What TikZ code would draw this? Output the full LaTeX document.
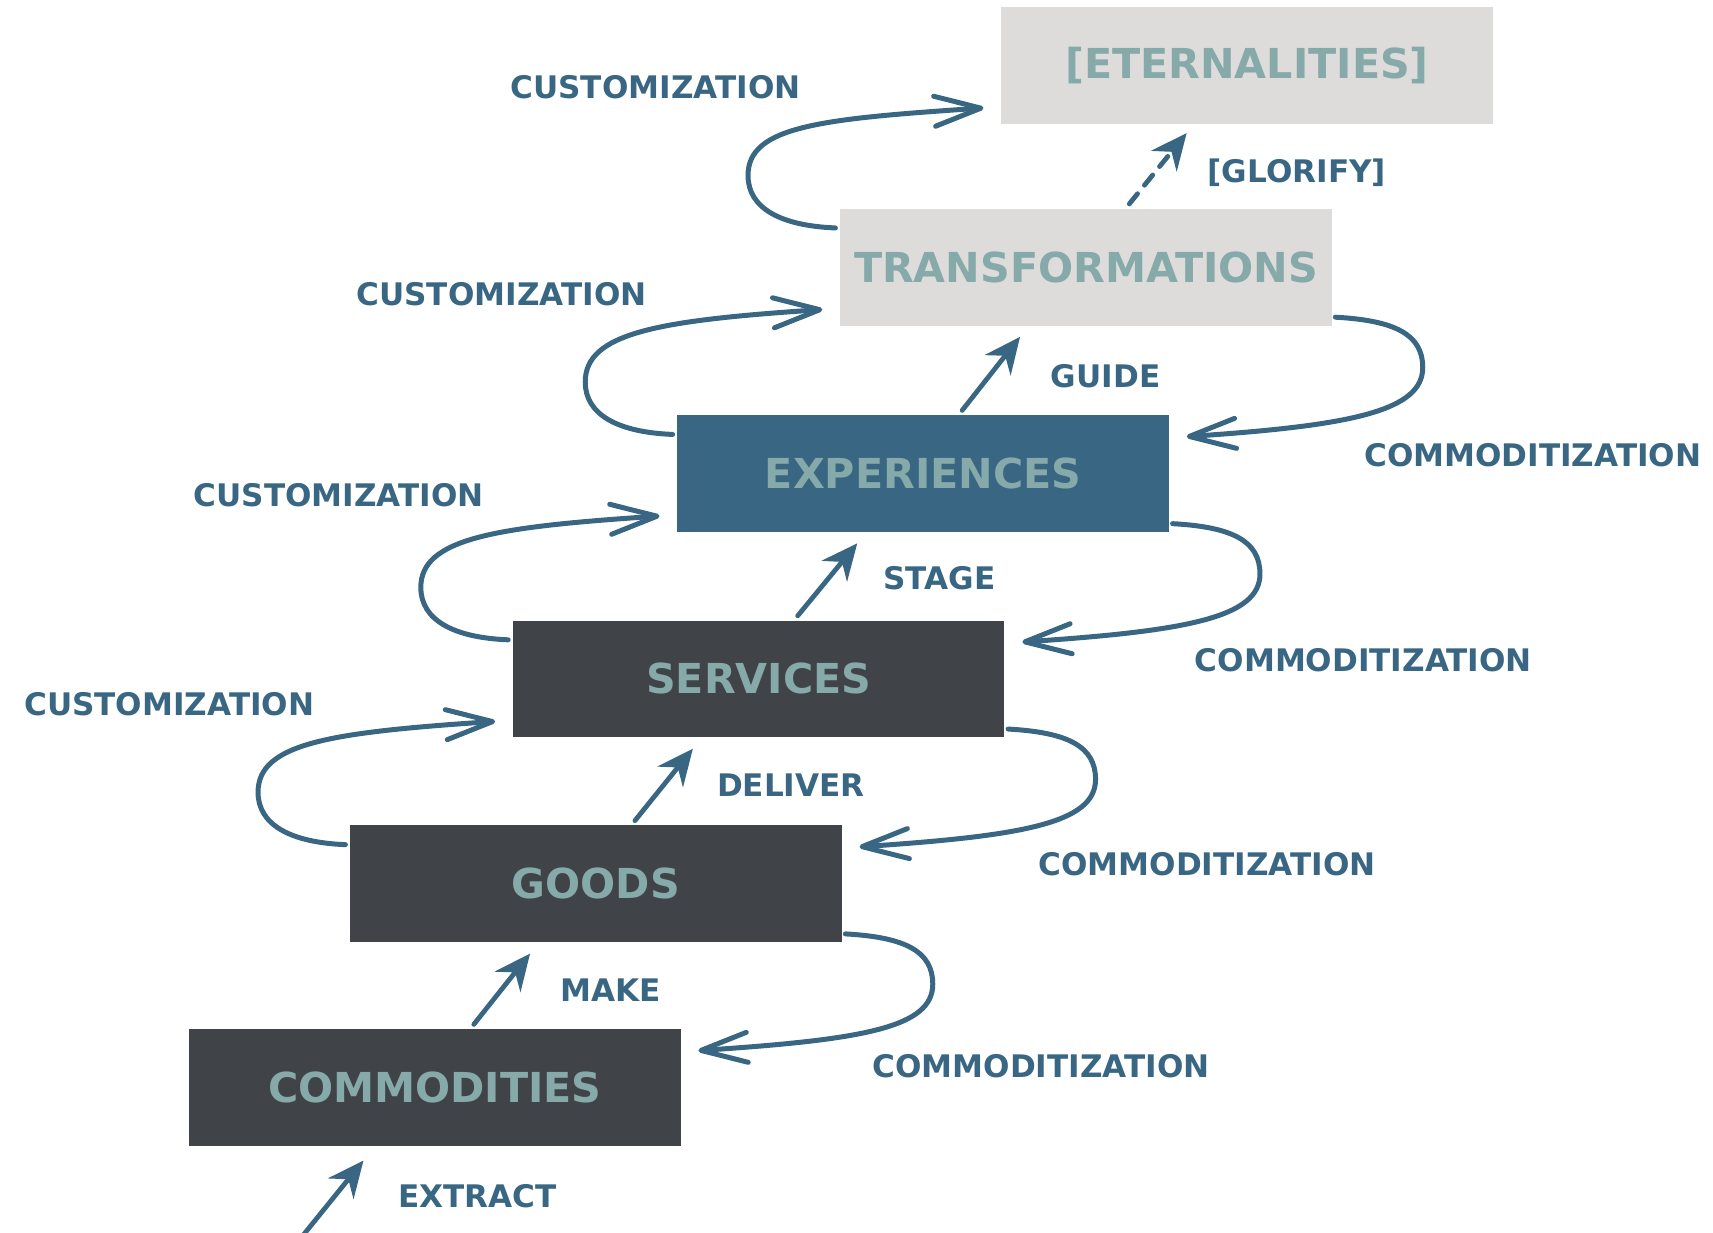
\documentclass[tikz,border=0pt]{standalone}
\usepackage{fontspec}
\setmainfont{DejaVu Sans}
\usetikzlibrary{arrows.meta,calc}

\definecolor{slate}{HTML}{404448}
\definecolor{steel}{HTML}{386683}
\definecolor{fog}{HTML}{DEDCDA}
\definecolor{sage}{HTML}{86A9A9}
\definecolor{ink}{HTML}{386683}

\tikzset{
	tier/.style={rectangle, minimum width=9cm, minimum height=2.14cm, inner sep=0pt,
			text=sage, font=\fontsize{21.5}{24}\selectfont\bfseries},
	darktier/.style={tier, fill=slate},
	bluetier/.style={tier, fill=steel},
	greytier/.style={tier, fill=fog},
	lbl/.style={text=ink, inner sep=0pt, font=\fontsize{16.2}{18}\selectfont\bfseries},
	econ/.style={draw=ink, line width=2.5pt, line cap=round,
			-{Stealth[length=0.66cm,width=0.6cm,inset=0.22cm]}},
	turn/.style={draw=ink, line width=2.6pt, line cap=round,
			-{Straight Barb[length=0.85cm,width=0.55cm,line width=2.6pt,round]}}
}

\begin{document}
\begin{tikzpicture}[x=0.02cm, y=-0.02cm]
	\useasboundingbox (0,0) rectangle (1568,1128);

	% the six offerings
	\node[greytier] (eter) at (1141.5,60) {[ETERNALITIES]};
	\node[greytier] (trans) at (994,244.5) {TRANSFORMATIONS};
	\node[bluetier] (exp) at (845,433.5) {EXPERIENCES};
	\node[darktier] (serv) at (694.5,621.5) {SERVICES};
	\node[darktier] (goods) at (545.5,809) {GOODS};
	\node[darktier] (comm) at (398,995.5) {COMMODITIES};

	% labels
	\node[lbl] (cust1) at (600,80) {CUSTOMIZATION};
	\node[lbl] (cust2) at (459,269) {CUSTOMIZATION};
	\node[lbl] (cust3) at (310,453) {CUSTOMIZATION};
	\node[lbl] (cust4) at (155,645) {CUSTOMIZATION};
	\node[lbl] (comz1) at (1403,417) {COMMODITIZATION};
	\node[lbl] (comz2) at (1248,604) {COMMODITIZATION};
	\node[lbl] (comz3) at (1105,791) {COMMODITIZATION};
	\node[lbl] (comz4) at (953,976) {COMMODITIZATION};
	\node[lbl] (glorify) at (1187,158) {[GLORIFY]};
	\node[lbl] (guide) at (1012,344) {GUIDE};
	\node[lbl] (stage) at (860,529) {STAGE};
	\node[lbl] (deliver) at (724,719) {DELIVER};
	\node[lbl] (make) at (559,906) {MAKE};
	\node[lbl] (extract) at (437,1095) {EXTRACT};

	% progression arrows
	\coordinate (raw) at (278,1130);
	\draw[econ] (raw) -- ($(comm.south west)+(160,13)$);
	\foreach \lo/\hi in {comm/goods, goods/serv, serv/exp, exp/trans}
		\draw[econ] ($(\lo.north west)+(261,-4)$) -- ($(\hi.south west)+(165,10)$);
	\draw[econ, dash pattern=on 0.24cm off 0.2cm] ($(trans.north west)+(265,-4)$) -- ($(eter.south west)+(170,8)$);

	% customization loops (left)
	\foreach \lo/\hi in {trans/eter, exp/trans, serv/exp, goods/serv}
		\draw[turn] ($(\lo.north west)+(-4,18)$) .. controls +(-50,-2) and +(0,30) .. ++(-80,-48)
			.. controls +(0,-45) and +(-150,10) .. ($(\hi.south west)+(-16,-15)$);

	% commoditization loops (right)
	\foreach \hi/\lo in {trans/exp, exp/serv, serv/goods, goods/comm}
		\draw[turn] ($(\hi.south east)+(3,-8)$) .. controls +(55,3) and +(0,-30) .. ++(80,46)
			.. controls +(0,40) and +(150,-10) .. ($(\lo.north east)+(16,20)$);
\end{tikzpicture}
\end{document}
